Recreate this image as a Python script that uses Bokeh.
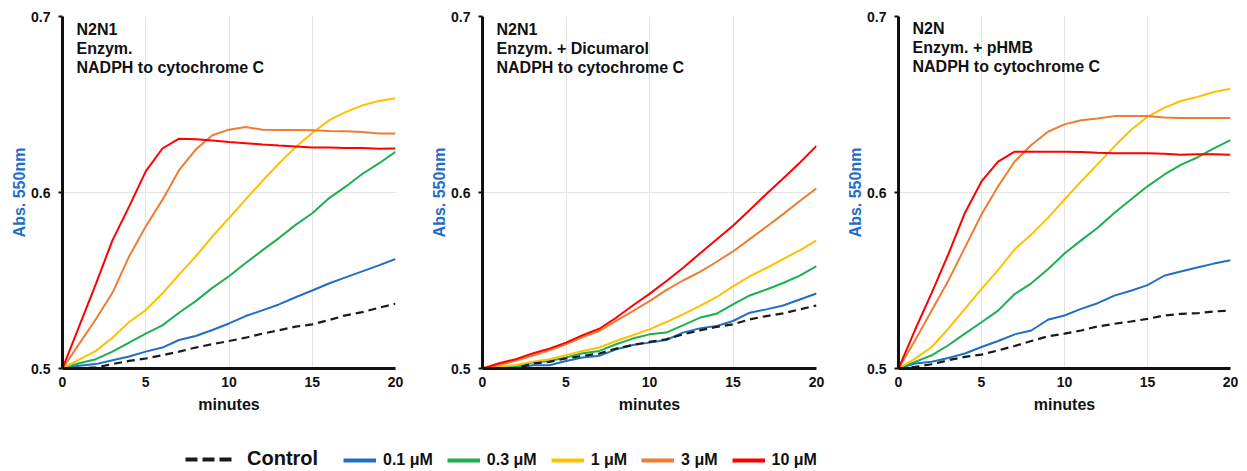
from bokeh.plotting import figure
from bokeh.layouts import row, column
from bokeh.models import Range1d, FixedTicker, Label, Legend, LegendItem
from bokeh.embed import file_html
from bokeh.resources import INLINE

minutes = list(range(21))

p1_control = [0.500,0.500,0.5006,0.5025,0.5043,0.5057,0.5075,0.5096,0.5119,0.5138,0.5156,0.5175,0.5198,0.5217,0.5238,0.5251,0.5275,0.5302,0.5320,0.5345,0.5368]
p1_01 = [0.500,0.5015,0.5025,0.5047,0.5068,0.5096,0.5119,0.5162,0.5185,0.5219,0.5256,0.5298,0.5330,0.5364,0.5405,0.5443,0.5483,0.5518,0.5552,0.5586,0.5622]
p1_03 = [0.500,0.5030,0.5053,0.5096,0.5147,0.5198,0.5245,0.5317,0.5383,0.5458,0.5524,0.5599,0.5671,0.5741,0.5816,0.5882,0.5967,0.6033,0.6105,0.6165,0.6231]
p1_1 = [0.500,0.5050,0.5100,0.5175,0.5264,0.5332,0.5426,0.5533,0.5637,0.5750,0.5854,0.5961,0.6065,0.6165,0.6259,0.6338,0.6410,0.6457,0.6495,0.6520,0.6536]
p1_3 = [0.500,0.5140,0.5280,0.5430,0.5637,0.5807,0.5958,0.6127,0.6244,0.6325,0.6357,0.6372,0.6357,0.6355,0.6355,0.6353,0.6350,0.6348,0.6344,0.6335,0.6335]
p1_10 = [0.500,0.5240,0.5480,0.5728,0.5920,0.6120,0.6250,0.6306,0.6303,0.6295,0.6287,0.6280,0.6273,0.6267,0.6262,0.6255,0.6255,0.6253,0.6253,0.6248,0.6250]

p2_control = [0.500,0.500,0.500,0.5028,0.5038,0.5057,0.5072,0.5085,0.5113,0.5134,0.5151,0.5166,0.5194,0.5217,0.5236,0.5251,0.5279,0.5298,0.5313,0.5336,0.5358]
p2_01 = [0.500,0.500,0.500,0.5019,0.5019,0.5043,0.5062,0.5072,0.5109,0.5134,0.5147,0.5162,0.5204,0.5228,0.5241,0.5270,0.5317,0.5336,0.5358,0.5392,0.5426]
p2_03 = [0.500,0.5005,0.5010,0.5034,0.5043,0.5062,0.5087,0.5100,0.5138,0.5170,0.5194,0.5204,0.5245,0.5288,0.5311,0.5364,0.5415,0.5449,0.5486,0.5528,0.5581]
p2_1 = [0.500,0.5010,0.5020,0.5038,0.5053,0.5075,0.5100,0.5119,0.5156,0.5189,0.5222,0.5264,0.5307,0.5354,0.5405,0.5467,0.5524,0.5571,0.5622,0.5671,0.5728]
p2_3 = [0.500,0.5020,0.5045,0.5072,0.5104,0.5138,0.5179,0.5213,0.5270,0.5326,0.5383,0.5445,0.5500,0.5547,0.5605,0.5665,0.5735,0.5805,0.5877,0.5952,0.6024]
p2_10 = [0.500,0.5030,0.5053,0.5085,0.5113,0.5147,0.5190,0.5226,0.5288,0.5358,0.5424,0.5496,0.5571,0.5652,0.5731,0.5811,0.5901,0.5992,0.6080,0.6169,0.6265]

p3_control = [0.500,0.5009,0.5024,0.5047,0.5066,0.5079,0.5103,0.5128,0.5156,0.5183,0.5198,0.5216,0.5239,0.5254,0.5267,0.5282,0.5301,0.5310,0.5314,0.5324,0.5329]
p3_01 = [0.500,0.5028,0.5038,0.5060,0.5085,0.5122,0.5156,0.5194,0.5216,0.5277,0.5301,0.5339,0.5371,0.5414,0.5442,0.5474,0.5527,0.5551,0.5574,0.5596,0.5615]
p3_03 = [0.500,0.5038,0.5075,0.5132,0.5198,0.5263,0.5329,0.5423,0.5484,0.5564,0.5653,0.5728,0.5800,0.5884,0.5960,0.6035,0.6101,0.6157,0.6199,0.6251,0.6298]
p3_1 = [0.500,0.5056,0.5122,0.5226,0.5339,0.5452,0.5559,0.5677,0.5762,0.5856,0.5960,0.6063,0.6161,0.6261,0.6355,0.6430,0.6481,0.6520,0.6543,0.6571,0.6590]
p3_3 = [0.500,0.5160,0.5330,0.5499,0.5687,0.5875,0.6035,0.6176,0.6270,0.6345,0.6387,0.6411,0.6420,0.6434,0.6434,0.6434,0.6426,0.6424,0.6424,0.6424,0.6424]
p3_10 = [0.500,0.5220,0.5430,0.5649,0.5884,0.6063,0.6176,0.6232,0.6232,0.6232,0.6232,0.6230,0.6226,0.6223,0.6223,0.6223,0.6220,0.6215,0.6217,0.6217,0.6214]

series_labels = ["Control", "0.1 \u03bcM", "0.3 \u03bcM", "1 \u03bcM", "3 \u03bcM", "10 \u03bcM"]
series_colors = ["#1a1a1a", "#1F6FC6", "#1DB050", "#FFC000", "#ED7D31", "#FF0000"]
x_ticks = [0, 5, 10, 15, 20]
y_ticks = [0.5, 0.6, 0.7]

panel_titles = [
    ["N2N1", "Enzym.", "NADPH to cytochrome C"],
    ["N2N1", "Enzym. + Dicumarol", "NADPH to cytochrome C"],
    ["N2N", "Enzym. + pHMB", "NADPH to cytochrome C"],
]
panel_data = [
    [p1_control, p1_01, p1_03, p1_1, p1_3, p1_10],
    [p2_control, p2_01, p2_03, p2_1, p2_3, p2_10],
    [p3_control, p3_01, p3_03, p3_1, p3_3, p3_10],
]

FONT = "Liberation Sans"
H = 440
# (fig width, border left, border right, border top, frame height)
geoms = [(420, 62, 25, 16, 353), (410, 62, 14, 16, 353), (417, 68, 17, 14, 354)]

figs = []
for k in range(3):
    W, bl, br, bt, fh = geoms[k]
    p = figure(width=W, height=H, output_backend="svg", toolbar_location=None,
               x_range=Range1d(0, 20), y_range=Range1d(0.5, 0.7),
               min_border_left=bl, min_border_right=br, min_border_top=bt,
               min_border_bottom=H - bt - fh)
    p.outline_line_color = None
    p.background_fill_color = "white"
    p.border_fill_color = "white"
    p.xaxis.ticker = FixedTicker(ticks=x_ticks)
    p.yaxis.ticker = FixedTicker(ticks=y_ticks)
    for ax in (p.xaxis[0], p.yaxis[0]):
        ax.axis_line_color = "#111111"
        ax.axis_line_width = 3
        ax.major_label_text_font = FONT
        ax.major_label_text_font_style = "bold"
        ax.major_label_text_font_size = "14px"
        ax.major_label_text_color = "#111111"
        ax.minor_tick_line_color = None
        ax.axis_label_text_font = FONT
        ax.axis_label_text_font_style = "bold"
        ax.axis_label_text_font_size = "16px"
    p.xaxis.major_tick_line_color = None
    p.xaxis.major_tick_out = 0
    p.xaxis.major_tick_in = 0
    p.xaxis.major_label_standoff = 8
    p.xaxis.axis_label = "minutes"
    p.xaxis.axis_label_standoff = 6
    p.xaxis.axis_label_text_color = "#111111"
    p.yaxis.major_tick_line_color = "#111111"
    p.yaxis.major_tick_line_width = 2
    p.yaxis.major_tick_out = 4
    p.yaxis.major_tick_in = 0
    p.yaxis.major_label_standoff = 8
    p.yaxis.axis_label = "Abs. 550nm"
    p.yaxis.axis_label_standoff = 0
    p.yaxis.axis_label_text_color = "#1F6FC6"
    p.xgrid.grid_line_color = "#E4E4E4"
    p.ygrid.grid_line_color = "#E4E4E4"
    p.xgrid.grid_line_width = 1
    p.ygrid.grid_line_width = 1

    data = panel_data[k]
    for i in range(1, 6):
        p.line(minutes, data[i], line_color=series_colors[i], line_width=2)
    p.line(minutes, data[0], line_color=series_colors[0], line_width=2.2, line_dash="8 5")

    for j, txt in enumerate(panel_titles[k]):
        p.add_layout(Label(x=14, y=fh - 14 - 19 * j, x_units="screen", y_units="screen",
                           text=txt, text_font=FONT, text_font_style="bold",
                           text_font_size="16px", text_color="#111111",
                           text_baseline="middle", text_align="left"))
    figs.append(p)

# legend strip: swatch renderers carry real data but sit outside the visible range
pl = figure(width=1247, height=471 - H, output_backend="svg", toolbar_location=None,
            x_range=Range1d(1000, 1001), y_range=Range1d(1000, 1001),
            x_axis_location=None, y_axis_location=None,
            min_border=0, min_border_left=0, min_border_right=0,
            min_border_top=0, min_border_bottom=0)
pl.outline_line_color = None
pl.xgrid.visible = False
pl.ygrid.visible = False
rends = []
for i in range(6):
    if i == 0:
        r = pl.line(minutes, panel_data[0][i], line_color=series_colors[i], line_width=4, line_dash="12 5")
    else:
        r = pl.line(minutes, panel_data[0][i], line_color=series_colors[i], line_width=4)
    rends.append(r)

leg1 = Legend(items=[LegendItem(label=series_labels[0], renderers=[rends[0]])],
              orientation="horizontal", location=(185, 1), padding=0, margin=0,
              glyph_width=48, glyph_height=20, label_standoff=14, label_height=20,
              label_text_font=FONT, label_text_font_style="bold",
              label_text_font_size="20px", label_text_color="#111111",
              border_line_color=None, background_fill_alpha=0)
leg2 = Legend(items=[LegendItem(label=series_labels[i], renderers=[rends[i]]) for i in range(1, 6)],
              orientation="horizontal", location=(343, 1), padding=0, margin=0,
              spacing=14, glyph_width=33, glyph_height=20, label_standoff=7, label_height=20,
              label_text_font=FONT, label_text_font_style="bold",
              label_text_font_size="16px", label_text_color="#111111",
              border_line_color=None, background_fill_alpha=0)
pl.add_layout(leg1, "center")
pl.add_layout(leg2, "center")

layout = column(row(*figs), pl)
open("out.html", "w").write(file_html(layout, INLINE))
